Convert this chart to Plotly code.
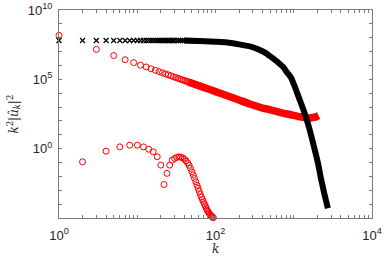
import plotly.graph_objects as go

# ---- data ----
# black series (x markers), low wavenumbers where markers are distinct
black_k_sparse = [1, 2, 3, 4, 5, 6, 7, 8, 9, 10, 11, 12, 13, 14, 15, 16, 17, 18, 19, 20,
                  21, 22, 23, 24, 25, 26, 27, 28, 29, 30, 32, 34, 36, 38, 40, 43, 46,
                  50, 54, 58]
black_v_sparse = [6.3e7, 6.3e7, 6.3e7, 6.3e7, 6.3e7, 6.3e7, 6.3e7, 6.3e7, 6.3e7, 6.3e7,
                  6.3e7, 6.3e7, 6.3e7, 6.3e7, 6.3e7, 6.3e7, 6.3e7, 6.3e7, 6.3e7, 6.3e7,
                  6.3e7, 6.3e7, 6.3e7, 6.3e7, 6.3e7, 6.3e7, 6.3e7, 6.3e7, 6.3e7, 6.3e7,
                  6.3e7, 6.3e7, 6.3e7, 6.3e7, 6.3e7, 6.2e7, 6.1e7, 6.0e7, 5.9e7, 5.8e7]
# black series, dense part (markers merge into a band)
black_k_dense = [40, 50, 74, 100, 150, 200, 282, 350, 430, 507, 600, 723, 820, 917, 1020,
                 1125, 1270, 1426, 1600, 1858, 2050, 2218, 2450, 2730]
black_v_dense = [6.3e7, 6.0e7, 5.6e7, 5.1e7, 4.3e7, 3.3e7, 2.3e7, 1.5e7, 8.5e6, 4.4e6,
                 2.1e6, 8.3e5, 3.2e5, 1.4e5, 3.5e4, 7.9e3, 1.3e3, 2.0e2, 2.2e1, 7.9e-1,
                 7.9e-2, 7.9e-3, 6.3e-4, 5.0e-5]

# red series, odd wavenumbers
red_odd_k = [1, 3, 5, 7, 9, 11, 13, 15, 17, 19, 21, 23, 25, 27, 29, 31, 33, 35, 37, 39,
             41, 43, 45, 47, 49, 51]
red_odd_v = [1.48e8, 1.45e7, 5.2e6, 2.6e6, 1.6e6, 1.05e6, 7.8e5, 5.8e5, 4.5e5, 3.6e5,
             2.95e5, 2.45e5, 2.1e5, 1.8e5, 1.55e5, 1.35e5, 1.2e5, 1.07e5, 9.5e4, 8.5e4,
             7.8e4, 7.1e4, 6.5e4, 5.9e4, 5.5e4, 5.0e4]
red_band_k = [45, 51, 61, 81, 100, 150, 200, 282, 400, 507, 683, 917, 1200, 1426,
              1600, 1800, 1950, 2080]
red_band_v = [6.5e4, 5.0e4, 3.5e4, 2.0e4, 1.3e4, 5.8e3, 3.2e3, 1.6e3, 8.5e2, 6.3e2,
              4.0e2, 2.8e2, 2.0e2, 1.74e2, 1.66e2, 1.82e2, 2.04e2, 2.4e2]

# red series, even wavenumbers
red_even_k = [2, 4, 6, 8, 10, 12, 14, 16, 18, 20, 22, 24, 26, 28, 30, 32, 34, 36, 38, 40,
              42, 44, 46, 48, 50, 52, 54, 56, 58, 60, 62, 64, 66, 68, 70, 72, 74, 76,
              78, 80, 82, 84, 86, 88, 90, 92, 94]
red_even_v = [0.112, 0.66, 1.35, 1.78, 1.78, 1.35, 0.91, 0.59, 0.26, 0.065, 0.0026,
              0.0166, 0.065, 0.148, 0.195, 0.234, 0.257, 0.245, 0.214, 0.174, 0.132,
              0.095, 0.063, 0.038, 0.0214, 0.0126, 0.0072, 0.0041, 0.0023, 0.00138,
              0.00083, 0.0005, 0.00032, 0.00022, 0.000151, 0.000105, 0.000076,
              0.000052, 0.000038, 0.00003, 0.000024, 0.000019, 0.000016, 0.0000138,
              0.0000126, 0.0000112, 0.0000105]

# ticks
x_tick_vals = [1, 2, 3, 4, 5, 6, 7, 8, 9, 10, 20, 30, 40, 50, 60, 70, 80, 90,
               100, 200, 300, 400, 500, 600, 700, 800, 900,
               1000, 2000, 3000, 4000, 5000, 6000, 7000, 8000, 9000, 10000]
x_labels = {1: "10<sup>0</sup>", 100: "10<sup>2</sup>", 10000: "10<sup>4</sup>"}
y_tick_vals = [1e-5, 1e-4, 1e-3, 1e-2, 1e-1, 1, 1e1, 1e2, 1e3, 1e4, 1e5, 1e6, 1e7,
               1e8, 1e9, 1e10]
y_labels = {1: "10<sup>0</sup>", 1e5: "10<sup>5</sup>", 1e10: "10<sup>10</sup>"}

RED = "#ff0000"
BLACK = "#000000"

fig = go.Figure()

fig.add_trace(go.Scatter(x=red_band_k, y=red_band_v, mode="lines",
                         line=dict(color=RED, width=7.5, shape="spline", smoothing=0.5),
                         cliponaxis=False, showlegend=False, hoverinfo="skip"))
fig.add_trace(go.Scatter(x=red_odd_k, y=red_odd_v, mode="markers",
                         marker=dict(symbol="circle-open", size=6, color=RED,
                                     line=dict(width=1, color=RED)),
                         cliponaxis=False, showlegend=False))
fig.add_trace(go.Scatter(x=red_even_k, y=red_even_v, mode="markers",
                         marker=dict(symbol="circle-open", size=6, color=RED,
                                     line=dict(width=1, color=RED)),
                         cliponaxis=False, showlegend=False))
fig.add_trace(go.Scatter(x=black_k_dense, y=black_v_dense, mode="lines",
                         line=dict(color=BLACK, width=6, shape="spline", smoothing=0.6),
                         cliponaxis=False, showlegend=False, hoverinfo="skip"))
fig.add_trace(go.Scatter(x=black_k_sparse, y=black_v_sparse, mode="markers",
                         marker=dict(symbol="x-thin-open", size=5, color=BLACK,
                                     line=dict(width=1.2, color=BLACK)),
                         cliponaxis=False, showlegend=False))

axis_common = dict(type="log", showgrid=False, zeroline=False, showline=True,
                   linecolor="#7a7a7a", linewidth=1, mirror="allticks",
                   ticks="inside", ticklen=3, tickwidth=1, tickcolor="#7a7a7a",
                   automargin=False,
                   tickfont=dict(family="Liberation Sans, Arial, sans-serif",
                                 size=13, color="#262626"))

fig.update_layout(
    width=386, height=260,
    margin=dict(l=59, r=14, t=10, b=42),
    paper_bgcolor="white", plot_bgcolor="white",
    xaxis=dict(range=[0, 4], tickmode="array", tickvals=x_tick_vals,
               ticktext=[x_labels.get(v, "") for v in x_tick_vals],
               ticklabelstandoff=5, **axis_common),
    yaxis=dict(range=[-5, 10], tickmode="array", tickvals=y_tick_vals,
               ticktext=[y_labels.get(v, "") for v in y_tick_vals],
               ticklabelstandoff=3, **axis_common),
    annotations=[
        dict(text="<i>k</i>", xref="paper", yref="paper", x=0.5, y=-0.15,
             xanchor="center", yanchor="middle", showarrow=False,
             font=dict(family="DejaVu Serif, serif", size=12, color="#262626")),
        dict(text="<i>k</i><sup>2</sup>|<i>û</i><sub><i>k</i></sub>|<sup>2</sup>",
             xref="paper", yref="paper", x=-0.145, y=0.5, textangle=-90,
             xanchor="center", yanchor="middle", showarrow=False,
             font=dict(family="DejaVu Serif, serif", size=12, color="#262626")),
    ],
)

fig.write_html("out.html",
               config={"displayModeBar": False},
               post_script="document.body.style.margin='0px';"
                           "document.body.style.padding='0px';")
